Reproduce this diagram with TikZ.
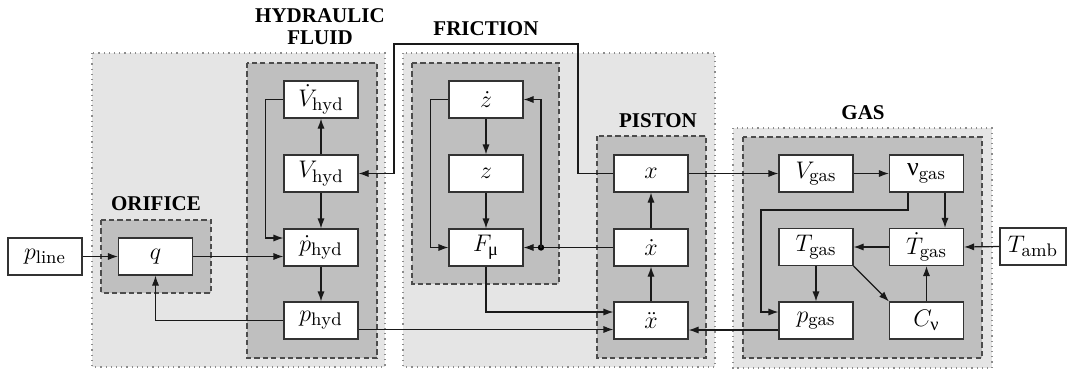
\documentclass[tikz,border=0pt]{standalone}
\usepackage{amsmath}
\usepackage{fontspec}
\newfontfamily\lblfont{Liberation Serif}
\newfontfamily\grk{Liberation Serif}
\usetikzlibrary{arrows.meta,calc}
\begin{document}
\begin{tikzpicture}[x=0.5pt,y=-0.5pt,
  outer/.style={draw=black!45,fill=black!10,dotted,line width=0.6pt},
  group/.style={draw=black!70,fill=black!25,dash pattern=on 2.6pt off 1.6pt,line width=0.6pt},
  blk/.style={draw=black!80,fill=white,line width=0.6pt,minimum width=37pt,minimum height=18.5pt,inner sep=0pt,font=\fontsize{13}{15}\selectfont},
  lbl/.style={font=\lblfont\bfseries\fontsize{10.5}{12}\selectfont,align=center,inner sep=0pt},
  wire/.style={draw=black!90,line width=0.6pt},
  arr/.style={wire,-{Latex[length=5pt,width=3.6pt]}}]
\useasboundingbox (0,0) rectangle (1067,371);
% backgrounds
\path[outer] (92,53) rectangle (385,367);
\path[outer] (403,53) rectangle (715,367);
\path[outer] (733,128) rectangle (992,368);
\path[group] (101,220) rectangle (211,293);
\path[group] (247,63) rectangle (377,358);
\path[group] (412,63) rectangle (559,284);
\path[group] (597,136) rectangle (706,358);
\path[group] (743,137) rectangle (982,358);
% labels
\node[lbl] (Lhyd) at (320,27) {HYDRAULIC\\[-1pt]FLUID};
\node[lbl] (Lori) at (156,204) {ORIFICE};
\node[lbl] (Lfri) at (486,29) {FRICTION};
\node[lbl] (Lpis) at (658,121) {PISTON};
\node[lbl] (Lgas) at (863,113) {GAS};
% blocks
\node[blk] (pline) at (45,256.5) {$p_{\mathrm{line}}$};
\node[blk] (q) at (155.5,256.5) {$q$};
\node[blk] (Vdhyd) at (321,99.5) {$\dot V_{\mathrm{hyd}}$};
\node[blk] (Vhyd) at (321,173.5) {$V_{\mathrm{hyd}}$};
\node[blk] (pdhyd) at (321,247.5) {$\dot p_{\mathrm{hyd}}$};
\node[blk] (phyd) at (321,320.5) {$p_{\mathrm{hyd}}$};
\node[blk] (zd) at (486,99.5) {$\dot z$};
\node[blk] (z) at (486,173.5) {$z$};
\node[blk] (Fmu) at (486,247.5) {$F_{\text{\grk μ}}$};
\node[blk] (x) at (651,173.5) {$x$};
\node[blk] (xd) at (651,247.5) {$\dot x$};
\node[blk] (xdd) at (651,320.5) {$\ddot x$};
\node[blk] (Vgas) at (816,173.5) {$V_{\mathrm{gas}}$};
\node[blk] (nugas) at (926.5,173.5) {$\text{\grk ν}_{\mathrm{gas}}$};
\node[blk] (Tgas) at (816,247) {$T_{\mathrm{gas}}$};
\node[blk] (Tdgas) at (926.5,247) {$\dot T_{\mathrm{gas}}$};
\node[blk] (pgas) at (816,320.5) {$p_{\mathrm{gas}}$};
\node[blk] (Cv) at (926.5,320.5) {$C_{\text{\grk ν}}$};
\node[blk,minimum width=33pt] (Tamb) at (1033,246.5) {$T_{\mathrm{amb}}$};
% helper coordinates
\coordinate (w1) at (578,44);
\coordinate (w2) at (394,44);
\coordinate (j) at (541,247.5);
\coordinate (g1) at (761,210);
% connectors: orifice / hydraulic
\draw[arr] (pline.east) -- (q.west);
\draw[arr] (q.east) -- (q.east -| pdhyd.west);
\draw[arr] (phyd.west) -| (q.south);
\draw[arr] (Vdhyd.west) -- ++(-18,0) |- ($(pdhyd.west)+(0,-9.5)$);
\draw[arr] (Vhyd.north) -- (Vdhyd.south);
\draw[arr] (Vhyd.south) -- (pdhyd.north);
\draw[arr] (pdhyd.south) -- (phyd.north);
\draw[arr] (x.west) -| (w1) -- (w2) |- (Vhyd.east);
\draw[arr] ($(phyd.east)+(0,9)$) -- ($(xdd.west)+(0,9)$);
% friction / piston
\draw[arr] (Fmu.south) |- ($(xdd.west)+(0,-8.5)$);
\draw[arr] (xdd.north) -- (xd.south);
\draw[arr] (xd.north) -- (x.south);
\draw[arr] (xd.west) -- (Fmu.east);
\fill (j) circle[radius=1.6pt];
\draw[arr] (j) |- (zd.east);
\draw[arr] (zd.west) -- ++(-18,0) |- (Fmu.west);
\draw[arr] (zd.south) -- (z.north);
\draw[arr] (z.south) -- (Fmu.north);
% gas
\draw[arr] ($(pgas.west)+(0,9.5)$) -- ($(xdd.east)+(0,9.5)$);
\draw[arr] (x.east) -- (Vgas.west);
\draw[arr] (Vgas.east) -- (nugas.west);
\draw[arr] ($(nugas.south)+(-18.5,0)$) |- (g1) |- ($(pgas.west)+(0,-8.5)$);
\draw[arr] ($(nugas.south)+(18.5,0)$) -- ($(Tdgas.north)+(18.5,0)$);
\draw[arr] (Tdgas.west) -- (Tgas.east);
\draw[arr] (Tamb.west) -- (Tdgas.east);
\draw[arr] (Tgas.south) -- (pgas.north);
\draw[arr] (Tgas.south east) -- (Cv.north west);
\draw[arr] (Cv.north) -- (Tdgas.south);
\end{tikzpicture}
\end{document}
